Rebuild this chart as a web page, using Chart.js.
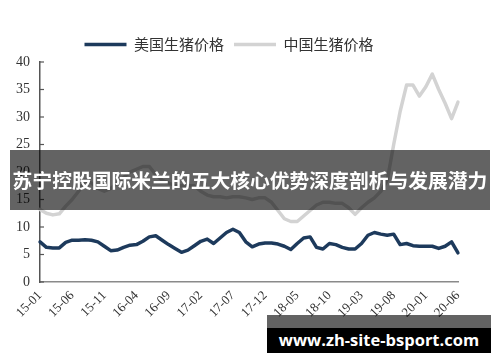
<!DOCTYPE html>
<html><head><meta charset="utf-8">
<script src="https://cdn.jsdelivr.net/npm/chart.js@4/dist/chart.umd.min.js"></script>
<style>
html,body{margin:0;padding:0;background:#fff;}
#wrap{position:relative;width:500px;height:362px;overflow:hidden;}
#c{position:absolute;left:0;top:0;}
#band{position:absolute;left:10px;top:150px;width:480px;height:60px;background:rgba(0,0,0,0.61);color:#fff;font-family:"Noto Sans CJK SC";font-weight:bold;font-size:19.8px;line-height:60px;text-align:center;white-space:nowrap;}
#wmTop{position:absolute;left:267px;top:315px;width:224px;height:13px;background:rgba(0,0,0,0.61);}
#wm{position:absolute;left:267px;top:328px;width:224px;height:25px;background:#000;color:#fff;font-family:"Open Sans";font-weight:bold;font-size:16.5px;line-height:24px;text-align:center;white-space:nowrap;}
</style></head>
<body><div id="wrap"><canvas id="c" width="500" height="362"></canvas>
<div id="band">苏宁控股国际米兰的五大核心优势深度剖析与发展潜力</div>
<div id="wmTop"></div><div id="wm">www.zh-site-bsport.com</div>
</div>
<script>
const months = ["15-01","15-02","15-03","15-04","15-05","15-06","15-07","15-08","15-09","15-10","15-11","15-12",
"16-01","16-02","16-03","16-04","16-05","16-06","16-07","16-08","16-09","16-10","16-11","16-12",
"17-01","17-02","17-03","17-04","17-05","17-06","17-07","17-08","17-09","17-10","17-11","17-12",
"18-01","18-02","18-03","18-04","18-05","18-06","18-07","18-08","18-09","18-10","18-11","18-12",
"19-01","19-02","19-03","19-04","19-05","19-06","19-07","19-08","19-09","19-10","19-11","19-12",
"20-01","20-02","20-03","20-04","20-05","20-06"];
const usPrice = [7.3,6.3,6.2,6.2,7.2,7.6,7.6,7.7,7.6,7.3,6.5,5.7,5.8,6.3,6.7,6.8,7.4,8.2,8.4,7.6,6.8,6.1,5.4,5.8,6.6,7.4,7.8,7.0,8.0,9.0,9.6,9.0,7.3,6.4,6.9,7.1,7.1,6.9,6.5,5.9,7.0,8.0,8.2,6.3,6.0,7.0,6.8,6.3,6.0,6.0,7.0,8.5,9.0,8.7,8.5,8.7,6.8,7.0,6.6,6.5,6.5,6.5,6.1,6.5,7.3,5.3];
const cnPrice = [13.2,12.5,12.2,12.4,13.8,15.0,16.5,18.5,18.0,17.0,16.5,17.0,18.0,19.0,20.0,20.5,21.0,21.0,19.5,18.5,18.0,17.5,17.5,17.5,17.5,16.5,15.8,15.5,15.5,15.3,15.5,15.5,15.3,15.0,15.3,15.3,14.5,13.0,11.5,11.0,11.0,12.0,13.0,14.0,14.5,14.5,14.3,14.3,13.5,12.3,13.5,14.5,15.3,16.5,18.5,25.0,31.0,35.8,35.8,33.8,35.5,37.8,35.0,32.5,29.7,32.7];
const seriesNames = ["美国生猪价格","中国生猪价格"];
const yTicks = [0,5,10,15,20,25,30,35,40];

const innerTicks = {
  id:'innerTicks',
  afterDatasetsDraw(chart){
    const y = chart.scales.y, ctx = chart.ctx, x0 = chart.chartArea.left;
    ctx.save(); ctx.strokeStyle='#555'; ctx.lineWidth=1.2;
    yTicks.forEach(v=>{ const py=y.getPixelForValue(v); ctx.beginPath(); ctx.moveTo(x0,py); ctx.lineTo(x0+4,py); ctx.stroke(); });
    ctx.restore();
  }
};

new Chart(document.getElementById('c'), {
  type:'line',
  data:{ labels: months, datasets:[
    {label:seriesNames[0], data:usPrice, borderColor:'#1d3a5c', backgroundColor:'#1d3a5c', borderWidth:3.5, pointRadius:0, tension:0, borderJoinStyle:'round', borderCapStyle:'round', order:0},
    {label:seriesNames[1], data:cnPrice, borderColor:'#d3d3d3', backgroundColor:'#d3d3d3', borderWidth:3.5, pointRadius:0, tension:0, borderJoinStyle:'round', borderCapStyle:'round', order:1}
  ]},
  options:{
    responsive:false, animation:false, devicePixelRatio:1,
    layout:{padding:{top:27,right:42,left:0,bottom:0}},
    plugins:{
      legend:{display:true, position:'top', align:'center',
        labels:{usePointStyle:true, pointStyle:'line', pointStyleWidth:42, boxHeight:15, padding:10, color:'#333',
          font:{family:'"Noto Sans CJK SC"', size:15}}},
      tooltip:{enabled:false}
    },
    scales:{
      x:{ grid:{display:false, drawTicks:false}, border:{display:true,color:'#8a8a8a',width:1.5},
          ticks:{autoSkip:false, maxRotation:45, minRotation:45, padding:6, color:'#333',
            font:{family:'"Liberation Serif"', size:13},
            callback:(v,i)=> i%5===0 ? months[i] : null},
          afterFit(s){ s.height = 80; } },
      y:{ min:0, max:40, grid:{display:false, drawTicks:false}, border:{display:true,color:'#555',width:1.5},
          ticks:{stepSize:5, padding:10, color:'#333', font:{family:'"Liberation Serif"', size:14}},
          afterFit(s){ s.width = 40; } }
    }
  },
  plugins:[innerTicks]
});
</script></body></html>
